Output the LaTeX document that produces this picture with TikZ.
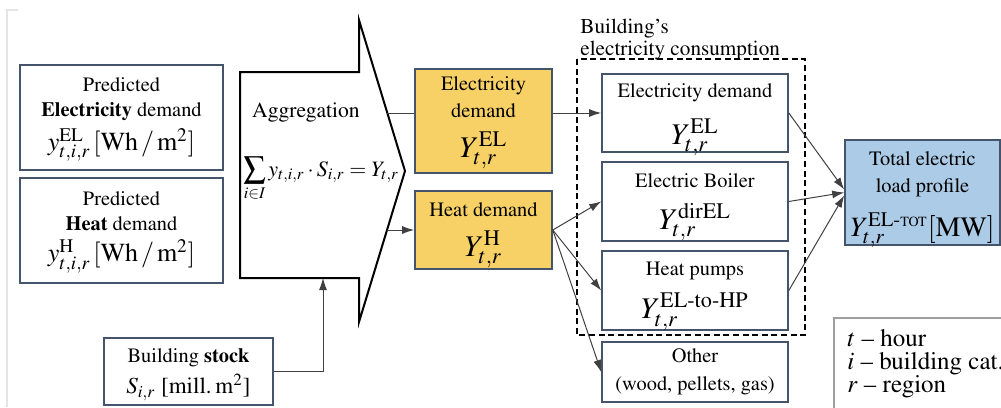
\documentclass[tikz,border=0pt]{standalone}
\usepackage[T1]{fontenc}
\usepackage{amsmath}
\usepackage{mathptmx}
\usetikzlibrary{arrows.meta}

\definecolor{boxline}{HTML}{44546A}
\definecolor{demandyellow}{HTML}{F8D166}
\definecolor{loadblue}{HTML}{ABCBE7}

% Schriftgroessen fuer die Formeln
\newcommand{\eqmid}[1]{{\fontsize{13}{15}\selectfont$#1$}}
\newcommand{\eqbig}[1]{{\fontsize{15}{17}\selectfont$#1$}}

\tikzset{
	databox/.style={draw=boxline,line width=0.8pt,fill=white,inner sep=0pt},
	yellowbox/.style={databox,fill=demandyellow},
	bluebox/.style={databox,fill=loadblue},
	boxtext/.style={align=center,inner sep=0pt,font=\fontsize{10.2}{12.5}\selectfont},
	flow/.style={draw=black!75,line width=0.5pt,-{Latex[length=6pt,width=4pt]}},
	plainflow/.style={draw=black!75,line width=0.5pt}
}

\begin{document}
\begin{tikzpicture}[x=0.5pt,y=-0.5pt,line join=miter]
	\useasboundingbox (0,0) rectangle (1001,407);
	% Seitenrand
	\draw[gray!20,line width=0.6pt] (18,10) -- (7,10) -- (7,407);
	
	% Eingangsdaten
	\node[databox,minimum width=101.5pt,minimum height=52.5pt] (pel) at (121.5,117.5) {};
	\node[boxtext,yshift=-1pt] (peltext) at (pel) {Predicted\\ \textbf{Electricity} demand\\[3pt] \eqmid{y^{\mathrm{EL}}_{t,i,r}\,[\mathrm{Wh}\,/\,\mathrm{m}^2]}};
	\node[databox,minimum width=101.5pt,minimum height=52.5pt] (pheat) at (121.5,230.5) {};
	\node[boxtext,yshift=-1pt] (pheattext) at (pheat) {Predicted\\ \textbf{Heat} demand\\[3pt] \eqmid{y^{\mathrm{H}}_{t,i,r}\,[\mathrm{Wh}\,/\,\mathrm{m}^2]}};
	\node[databox,minimum width=84.5pt,minimum height=33.5pt] (stock) at (188.5,371.5) {};
	\node[boxtext,yshift=-1.5pt] (stocktext) at (stock) {Building \textbf{stock}\\[3pt] {\fontsize{11.5}{13}\selectfont$S_{i,r}$ [mill.\,m$^2$]}};
	
	% Aggregation (Blockpfeil)
	\draw[line width=1pt] (240,72) -- (359,72) -- (359,20) -- (405,171) -- (359,322) -- (359,278) -- (240,278) -- cycle;
	\node[font=\fontsize{10.8}{12}\selectfont] (aggtext) at (306,113) {Aggregation};
	\node[anchor=base west,inner sep=0pt,font=\fontsize{11}{13}\selectfont] (aggsum) at (243,176) {$\displaystyle\sum_{i\in I} y_{t,i,r}\cdot S_{i,r}=Y_{t,r}$};
	\coordinate (aggEL) at (387,113);
	\coordinate (aggH) at (387,230);
	\coordinate (aggin) at (323,278);
	
	% aggregierte Nachfrage
	\node[yellowbox,minimum width=68.5pt,minimum height=52pt] (yel) at (483.5,121) {};
	\node[boxtext,yshift=-1pt] (yeltext) at (yel) {Electricity\\[1pt]demand\\[6pt] \eqbig{Y^{\mathrm{EL}}_{t,r}}};
	\node[yellowbox,minimum width=68.5pt,minimum height=39pt] (yheat) at (483.5,230) {};
	\node[boxtext,yshift=-2.5pt] (yheattext) at (yheat) {Heat demand\\[6pt] \eqbig{Y^{\mathrm{H}}_{t,r}}};
	
	% Stromverbrauch der Gebaeude
	\draw[line width=0.8pt,dash pattern=on 3pt off 1.8pt] (577,59) rectangle (805,335);
	\node[anchor=north west,align=left,inner sep=0pt,font=\fontsize{10.6}{10.8}\selectfont] (bldlabel) at (580,19) {Building's\\electricity consumption};
	\node[databox,minimum width=93pt,minimum height=39pt] (rel) at (695,113) {};
	\node[boxtext,yshift=-3.5pt] (reltext) at (rel) {Electricity demand\\[7pt] \eqbig{Y^{\mathrm{EL}}_{t,r}}};
	\node[databox,minimum width=93pt,minimum height=39.5pt] (rboil) at (695,201.5) {};
	\node[boxtext,yshift=-3pt] (rboiltext) at (rboil) {Electric Boiler\\[6.5pt] \eqbig{Y^{\mathrm{dirEL}}_{t,r}}};
	\node[databox,minimum width=93pt,minimum height=39.5pt] (rhp) at (695,290.5) {};
	\node[boxtext,yshift=-3pt] (rhptext) at (rhp) {Heat pumps\\[5.5pt] \eqbig{Y^{\text{EL-to-HP}}_{t,r}}};
	\node[databox,minimum width=93pt,minimum height=30pt] (roth) at (695,372) {};
	\node[boxtext] (rothtext) at (roth) {Other\\[1.5pt](wood, pellets, gas)};
	
	% Gesamtlast
	\node[bluebox,minimum width=77.5pt,minimum height=52.5pt] (total) at (922.5,192.5) {};
	\node[boxtext,yshift=-3.5pt] (totaltext) at (total) {Total electric\\[1pt]load profile\\[7pt] {\fontsize{14}{16}\selectfont$Y^{\text{EL-{\scriptsize TOT}}}_{t,r}[\mathrm{MW}]$}};
	
	% Legende
	\draw[gray!75,line width=0.8pt] (834,318) rectangle (1010,420);
	\node[anchor=north west,align=left,inner sep=0pt,font=\fontsize{12.5}{11.5}\selectfont] (legend) at (847,329) {$t$ -- hour\\$i$ -- building cat.\\$r$ -- region};
	
	% Verbindungen
	\draw[plainflow] (aggEL) -- (aggEL -| yel.west);
	\draw[flow] (aggH) -- (yheat.west);
	\draw[flow] (stock.east) -| (aggin);
	\draw[flow] (rel.west -| yel.east) -- (rel.west);
	\draw[flow] (yheat.east) -- (rboil.west);
	\draw[flow] (yheat.east) -- (rhp.west);
	\draw[flow] (yheat.east) -- (roth.west);
	\draw[flow] (rel.east) -- ([yshift=1.5pt]total.west);
	\draw[flow] (rboil.east) -- (total.west);
	\draw[flow] (rhp.east) -- ([yshift=-1.5pt]total.west);
\end{tikzpicture}
\end{document}
